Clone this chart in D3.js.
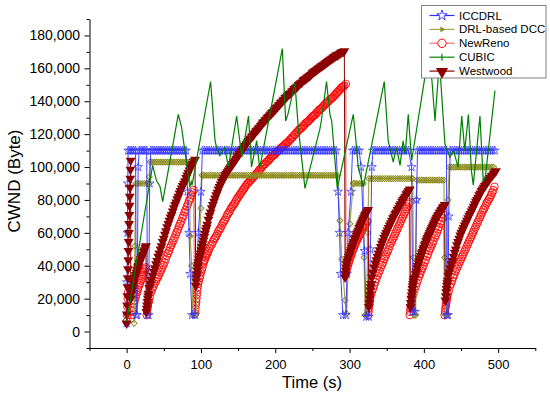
<!DOCTYPE html>
<html><head><meta charset="utf-8">
<script src="https://cdn.jsdelivr.net/npm/d3@7"></script>
<style>body{margin:0;background:#fff}text{font-family:Arial,"Liberation Sans",sans-serif}</style>
</head><body><svg id="c" width="550" height="396"></svg>
<script>
// ---- data (CWND in thousand bytes). Entries: [t, v] or [t0, dt, [v, v, ...]] ----
const xTicks = [0, 100, 200, 300, 400, 500];
const yTicks = [0, 20, 40, 60, 80, 100, 120, 140, 160, 180];
const seriesNames = ["ICCDRL", "DRL-based DCC", "NewReno", "CUBIC", "Westwood"];

const iccdrl = [
 [0,5],[0.5,30],[1,60],[1.5,90],
 [2,2.5,[110,110,110,110,110]],
 [13,10],[14,10],[15.5,100],
 [17,2.5,[110,110,110,110,110]],
 [28,10],[29.5,10],[31,90],
 [32.5,2.5,[110,110,110,110,110,110,110,110,110,110,110,110,110,110,110,110,110,110,110,110]],
 [82,85],[84,60],[85.5,35],[88,10],[92,10],[94,35],[96.5,60],[100,85],
 [102,3,[110,110,110,110,110,110,110,110,110,110,
         110,110,110,110,110,110,110,110,110,110,
         110,110,110,110,110,110,110,110,110,110,
         110,110,110,110,110,110,110,110,110,110,
         110,110,110,110,110,110,110,110,110,110,
         110,110,110,110,110,110,110,110,110,110]],
 [282,110],[284.5,85],[286.5,60],[288,35],[291,10],[295,10],[296.5,35],[298,60],[302,85],
 [304,3,[110,110,110,110]],
 [315.5,100],[320,49],[322.5,9],[326,9],[328,50],[330,100],
 [331.5,3,[110,110,110,110,110,110,110,110,110,110,110,110,110,110,110,110]],
 [379.5,110],[383.5,100],[385,12],[388,12],[390,80],
 [391.5,3,[110,110,110,110,110,110,110,110,110,110,110,110,110]],
 [430.5,110],[431,10],[432.5,10],[433.5,70],
 [435.5,3,[110,110,110,110,110,110,110,110,110,110,110,110,110,110,110,110,110,110,110,110,110]]
];

const drlDcc = [
 [10,5],[11,52],[12.5,90],
 [15,3,[90,90,90,90,90]],
 [29.5,90],[30.5,94],[31.5,103],
 [34,3,[103,103,103,103,103,103,103,103,103,103,103,103,103,103,103,103,103]],
 [84.5,103],[85.5,58],[87.5,40],[89.5,10],[93,10],[97,45],[100,75],[101.5,95],
 [104,3,[95,95,95,95,95,95,95,95,95,95,
         95,95,95,95,95,95,95,95,95,95,
         95,95,95,95,95,95,95,95,95,95,
         95,95,95,95,95,95,95,95,95,95,
         95,95,95,95,95,95,95,95,95,95,
         95,95,95,95,95,95,95,95,95,95]],
 [283.5,95],[287,67.5],[289.5,44],[294,19],[296,11],[300.5,65.5],[305,90],
 [307,3,[90,90,90,90]],
 [318.5,90],[319.5,45],[321,10],[323,10],[324.5,60],[326,93],
 [329,3,[93,93,93,93,93,93,93,93,93,93,93,93,93,93,93,93,93,93,93]],
 [385,93],[386,45],[387,10],[389,10],[390,80],[391,92],
 [394,3,[92,92,92,92,92,92,92,92,92,92,92]],
 [427,92],[428,45],[429,10],[431,10],[432.5,80],[434,100],
 [437,3,[100,100,100,100,100,100,100,100,100,100,100,100,100,100,100,100,100,100,100,100]]
];

const newReno = [
 [0,0.5,[6,10,15,20,24]],
 [6,8],
 [7,1,[10,12.5,14.5,17,19,21,22.5,24,25.5,27,28.5,29.5,31,32,33.5,34.5,36,37,38,39]],
 [27,0.5,[10,12,14,15.5,17,18]],
 [30,1.5,[19,21.5,24,26,27.5,29,30.5,32,33,34.5,
          36,37.5,39,40.5,42,44,46,47.5,49,51,
          52.5,54,55.5,57,59,60.5,62,64,65.5,67,
          69,70.5,72.5,74,76,77.5,79.5,81,83,84.5,
          86]],
 [92,0.5,[11,13.5,16,18,20,22.5,25,27,29]],
 [97,1,[30.5,32.5,34,36,37.5,39,41,42.5,43.5,45,46,47,48]],
 [110,1.5,[49,50.5,52,53,54.5,56,57,58,59.5,61,
           62,63,64.5,66,67,68,69.5,71,72,73,
           74.5,75.5,76.5,77.5,78.5,80,81,82,83,84,
           85,86,87,88,89,90,90.5,91.5,92,93,
           93.5,94.5,95,96,96.5,97.5,98.5,99,100,101,
           101.5,102,103,103.5,104,105,105.5,106.5,107,107.5,
           108,109,109.5,110,110.5,111.5,112,112.5,113,114,
           114.5,115,115.5,116.5,117,118,118.5,119.5,120,121,
           121.5,122.5,123,123.5,124,125,125.5,126.5,127,127.5,
           128,129,129.5,130.5,131,131.5,132,133,133.5,134.5,
           135,135.5,136,137,137.5,138.5,139,139.5,140,141,
           141.5,142,142.5,143.5,144,145,145.5,146.5,147,148,
           148.5,149,149.5]],
 [295,150.5],
 [295,35],
 [296,1,[37,39,40.5,42,43.5,45,46,47.5,49,50,
         51,52.5,53.5,54.5,55.5,56.5,57.5,58.5,59,60,
         61,61.5,62.5,63.5,64,65,65.5,66.5,67]],
 [325,0.5,[10,12,14,16,17.5,19,21,22.5]],
 [330,1.5,[24,26,28,30,32,34,35.5,37,39,40.5,
           42,44,45.5,47,48.5,50,52,53.5,55,56.5,
           58,59.5,61,62.5,64,65.5,67,68.5,70,71.5,
           73,74.5,76,77.5]],
 [380.5,78.5],
 [381,0.5,[10,12,14,15.5,17,18.5,20,21.5]],
 [386,1.5,[23,25.5,27.5,29.5,31.5,33.5,35,37,38.5,40,
           42,43.5,45.5,47,49,50.5,52,53.5,55,57,
           58.5,60,62,63.5,65.5,67,69,71]],
 [428,0.5,[10,12,14,15.5,17,18.5,20,21.5,23]],
 [433.5,1.5,[24.5,27.5,29,31,33,34.5,36.5,38,39.5,41,
             42.5,44,45.5,47,48.5,50,51.5,53,54.5,56,
             57.5,59,60.5,62,63.5,65,66.5,68,69.5,71,
             72.5,74,75,76.5,78,79,80.5,81.5,83,84.5,
             86,88]]
];

const cubic = [
 [0,6],[22,66],[35,101],[40,92],[45,88],[48.5,79],[69.5,132],[74,124],[85,88],[87,91],[88,89],
 [113,152],[119,116],[121,112],[125.5,107],[132,112],[137,100],[148,131],[155,106],[164,131],
 [168,100],[175,116],[179,99],[209.5,172],[214,128],[217,132],[226.5,151],[231,124],[240,87],
 [260,123],[262,128],[269,152],[273.6,132],[276,128],[283.5,87],[305,132],[308.6,116],
 [311.7,100],[318.5,88],[346.7,152],[352,116],[358.8,103],[363,112],[368,101],[372,116],
 [375,108],[379,132],[383.6,104],[401.5,155],[406,172],[411,152],[415,128],[421,165],[426,130],
 [428.4,114],[435,106],[440,110],[446,100],[451,131],[455,110],[460,132],[464,98],[466.5,89],
 [475.5,131],[480,91],[483,95],[495.7,146.5]
];

const westwood = [
 [0,0.3,[5,10.5,16,21.5,27,32.5,38,43.5,49,54.5,60,65.5,71,76.5,82,87.5,93,98.5,104]],
 [5.5,20],[6.5,23],[7.2,25],
 [8,1,[27,29,31,33,34.5,36,37.5,39,40,41.5,42.5,44,45,46,47,48.5,49.5,51,52]],
 [26.5,0.5,[12,14,16,18,20,21.5,23]],
 [30.5,1.5,[26.5,29,31.5,34,36.5,38.5,41,43,45.5,47.5,
            50,52,54.5,56.5,59,61,63.5,65.5,67.5,69.5,
            71,73,75,77,78.5,80.5,82,84,85.5,87,
            88.5,90,91.5,93.5,95,96.5,98,99.5,101,102,
            103.5,104.5]],
 [93,0.5,[28,30.5,33,35,37,39,40.5]],
 [96.5,1,[42,44,46,47.5,49.5,51.5,53.5,55.5,57.5,59.5,61.5,63,65]],
 [110,1.5,[68,70.5,72.5,75,77,79,81,83,84.5,86.5,
           88,89.5,91,92,93.5,95,96,97,98,99,
           100,101,102,103,104,105,106,107,108,109,
           110,111,112,113,114,115,116,117,117.5,118.5,
           119,120,121,122,122.5,123.5,124,125,126,127,
           127.5,128.5,129,130,130.5,131.5,132,133,133.5,134.5,
           135,136,136.5,137.5,138,139,139.5,140.5,141,142,
           142.5,143.5,144,144.5,145,146,146.5,147.5,148,148.5,
           149,150,150.5,151,151.5,152.5,153,153.5,154,154.5,
           155,155.5,156,157,157.5,158,158.5,159,159.5,160,
           160.5,161,161.5,162,162.5,163,163.5,164,164.5,165,
           165.5,166,166.5,167,167.5,168,168,168.5,169,169.5,
           170,170,170.5]],
 [294,0.5,[33,35,37,39]],
 [296,1,[41,42.5,44,45.5,47,48.5,49.5,51,52,53.5,
         54.5,56,57,58.5,59.5,60.5,61.5,63,64,65,
         66,67,68,69,70,71,71.5,72.5,73,74]],
 [326,0.5,[15,17.5,20,22.5,25,27,29]],
 [330,1.5,[33,36,39,41.5,43.5,45.5,47.5,49.5,51.5,53.5,
           55,57,58.5,60,61.5,63,64.5,66,67.5,69,
           70,71.5,72.5,74,75,76.5,77.5,79,80,81,
           82,83.5,84.5,85.5,86.5]],
 [382,0.5,[15,17.5,20,22,24,26,27.5,29,30.5,32]],
 [388,1,[33,35,36.5,38.5,40,41.5,43,44.5,46,47.5,
         48.5,50,51,52.5,53.5,55,56,57,58,59,
         60,61,62,63,64,65,66,67,68,69,
         69.5,70.5,71,72,72.5,73.5,74,75,75.5,76,
         77]],
 [429,0.5,[19,21.5,24,26,28,29.5,31]],
 [433,34],
 [434,1.5,[36,38.5,41,43,45.5,48,50,52.5,54.5,56.5,
           58.5,60,61.5,63,64.5,66,67.5,69,70.5,71.5,
           73,74.5,76,77.5,79,80,81.5,83,84,85.5,
           86.5,87.5,88.5,89.5,90.5,91.5,92.5,93.5,94.5,95,
           96,97,97.5]]
];

// ---- helpers ----
function expand(entries){
  const pts = [];
  entries.forEach(e => {
    if (Array.isArray(e[2])) e[2].forEach((v,i) => pts.push([e[0] + i*e[1], v]));
    else pts.push([e[0], e[1]]);
  });
  return pts;
}

const svg = d3.select("#c");
const x = d3.scaleLinear().domain([-50, 550]).range([89.5, 535.3]);
const y = d3.scaleLinear().domain([-10, 190]).range([348, 19]);
const line = d3.line().x(d => x(d[0])).y(d => y(d[1]));

const C = {
  blue: "#2b2bff", olive: "#8c8c1e", oliveLine: "#a5a54a", red: "#ff0000",
  pink: "#ff8c8c", green: "#008000", dark: "#8b0000"
};
const starSym = d3.symbol().type(d3.symbolStar).size(24)();
const triSym = d3.symbol().type(d3.symbolTriangle).size(42)();
const diaSym = d3.symbol().type(d3.symbolDiamond).size(16)();

const plot = svg.append("g");

// NewReno
const nr = expand(newReno);
const gN = plot.append("g");
gN.append("path").datum(nr).attr("d", line).attr("fill","none").attr("stroke",C.pink).attr("stroke-width",1.5);
gN.selectAll("circle").data(nr).join("circle")
  .attr("cx", d => x(d[0])).attr("cy", d => y(d[1])).attr("r", 3.8)
  .attr("fill","none").attr("stroke",C.red).attr("stroke-width",0.9);

// DRL-based DCC
const dd = expand(drlDcc);
const gD = plot.append("g");
gD.append("path").datum(dd).attr("d", line).attr("fill","none").attr("stroke",C.oliveLine).attr("stroke-width",1.2);
gD.selectAll("path.m").data(dd).join("path").attr("class","m").attr("d", diaSym)
  .attr("transform", d => `translate(${x(d[0])},${y(d[1])}) scale(1.4,0.8)`)
  .attr("fill","none").attr("stroke",C.olive).attr("stroke-width",0.8);

// ICCDRL
const ic = expand(iccdrl);
const gI = plot.append("g");
gI.append("path").datum(ic).attr("d", line).attr("fill","none").attr("stroke",C.blue).attr("stroke-width",0.9);
gI.selectAll("path.m").data(ic).join("path").attr("class","m").attr("d", starSym)
  .attr("transform", d => `translate(${x(d[0])},${y(d[1])})`)
  .attr("fill","none").attr("stroke",C.blue).attr("stroke-width",0.7);

// Westwood
const ww = expand(westwood);
const gW = plot.append("g");
gW.append("path").datum(ww).attr("d", line).attr("fill","none").attr("stroke",C.dark).attr("stroke-width",1);
gW.selectAll("path.m").data(ww).join("path").attr("class","m").attr("d", triSym)
  .attr("transform", d => `translate(${x(d[0])},${y(d[1])}) rotate(180)`)
  .attr("fill",C.dark);

// CUBIC
const cu = expand(cubic);
plot.append("path").datum(cu).attr("d", line).attr("fill","none").attr("stroke",C.green).attr("stroke-width",1.2);

// ---- axes ----
const gx = svg.append("g").attr("transform","translate(0,348)");
gx.call(d3.axisBottom(x).tickValues(xTicks).tickSize(5).tickSizeOuter(0).tickPadding(7).tickFormat(d3.format("d")));
gx.append("g").call(d3.axisBottom(x).tickValues(d3.range(-50, 551, 100)).tickSize(3).tickSizeOuter(0).tickFormat(""))
  .select(".domain").remove();
const gy = svg.append("g").attr("transform","translate(89.5,0)");
gy.call(d3.axisLeft(y).tickValues(yTicks).tickSize(5).tickSizeOuter(0).tickPadding(4.5).tickFormat(d => d3.format(",")(d*1000)));
gy.append("g").call(d3.axisLeft(y).tickValues(d3.range(-10, 191, 20)).tickSize(3).tickSizeOuter(0).tickFormat(""))
  .select(".domain").remove();
svg.selectAll(".tick text").attr("font-family","Arial, 'Liberation Sans', sans-serif").attr("fill","#000");
gx.selectAll(".tick text").attr("font-size", 13);
gy.selectAll(".tick text").attr("font-size", 14);
svg.selectAll(".domain, .tick line").attr("stroke","#000");

svg.append("text").attr("x", 312).attr("y", 388).attr("text-anchor","middle")
  .attr("font-size", 16.5).text("Time (s)");
svg.append("text").attr("transform","translate(20,181) rotate(-90)").attr("text-anchor","middle")
  .attr("font-size", 17).text("CWND (Byte)");

// ---- legend ----
const lg = svg.append("g");
lg.append("rect").attr("x",421.5).attr("y",5.5).attr("width",124.5).attr("height",72.5)
  .attr("fill","#fff").attr("stroke","#808080").attr("stroke-width",1);
const legendStyle = [
  {line: C.blue, kind: "star"},
  {line: C.oliveLine, kind: "dia"},
  {line: C.pink, kind: "circle"},
  {line: C.green, kind: "tick"},
  {line: C.dark, kind: "tri"}
];
seriesNames.forEach((name, i) => {
  const yy = 15.5 + i*13.9;
  const st = legendStyle[i];
  lg.append("line").attr("x1",429.5).attr("x2",454.5).attr("y1",yy).attr("y2",yy)
    .attr("stroke",st.line).attr("stroke-width", st.kind==="circle" ? 1.5 : 1.2);
  if (st.kind === "star") lg.append("path").attr("d", d3.symbol().type(d3.symbolStar).size(34)())
    .attr("transform",`translate(442,${yy})`).attr("fill","#fff").attr("stroke",C.blue).attr("stroke-width",0.9);
  if (st.kind === "dia") lg.append("path").attr("d", d3.symbol().type(d3.symbolTriangle).size(14)())
    .attr("transform",`translate(442,${yy}) rotate(90)`).attr("fill",C.olive);
  if (st.kind === "circle") lg.append("circle").attr("cx",442).attr("cy",yy).attr("r",4.2)
    .attr("fill","#fff").attr("stroke",C.red).attr("stroke-width",1);
  if (st.kind === "tick") lg.append("line").attr("x1",442).attr("x2",442).attr("y1",yy-3.5).attr("y2",yy+3.5)
    .attr("stroke",C.green).attr("stroke-width",1.2);
  if (st.kind === "tri") lg.append("path").attr("d", d3.symbol().type(d3.symbolTriangle).size(65)())
    .attr("transform",`translate(442,${yy+0.5}) rotate(180)`).attr("fill",C.dark);
  lg.append("text").attr("x",459).attr("y",yy+4).attr("font-size",11.5).text(name);
});
</script>
</body></html>
